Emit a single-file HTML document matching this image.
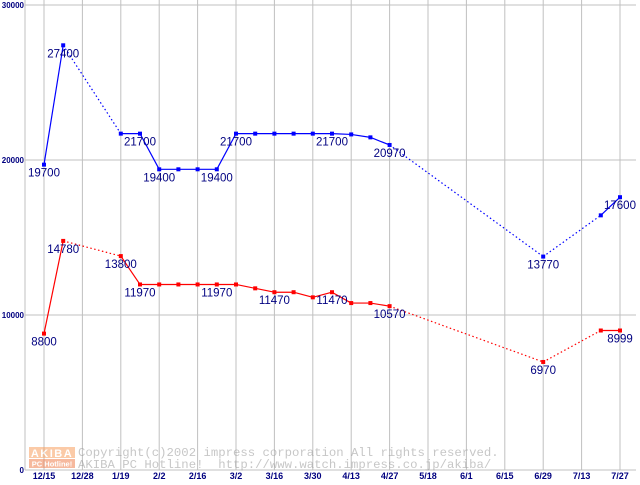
<!DOCTYPE html>
<html><head><meta charset="utf-8"><style>
body{margin:0;background:#fff;}
svg text{font-family:"Liberation Sans",sans-serif;}
svg text.mono{font-family:"Liberation Mono",monospace;}
</style></head><body>
<svg id="chart" width="640" height="480" xmlns="http://www.w3.org/2000/svg">
<g id="grid"></g>
<g id="wm" opacity="0.55">
 <rect x="29" y="447" width="46" height="11" fill="#f9a060"/>
 <text x="52" y="457" font-size="11" font-weight="bold" fill="#fff" text-anchor="middle" letter-spacing="1.5">AKIBA</text>
 <rect x="29" y="459" width="46" height="9" fill="#f08050"/>
 <text x="52" y="466.5" font-size="7.5" font-weight="bold" fill="#fff" text-anchor="middle">PC Hotline!</text>
 <text class="mono" x="78" y="456" font-size="12.3" fill="#999">Copyright(c)2002 impress corporation All rights reserved.</text>
 <text class="mono" x="78" y="468" font-size="12.3" fill="#999" xml:space="preserve">AKIBA PC Hotline!  http://www.watch.impress.co.jp/akiba/</text>
</g>
<g id="series"></g>
</svg>
<script>
const xLabels=["12/15","12/28","1/19","2/2","2/16","3/2","3/16","3/30","4/13","4/27","5/18","6/1","6/15","6/29","7/13","7/27"];
const yTicks=[0,10000,20000,30000];
const blueIdx=[0,0.5,2,2.5,3,3.5,4,4.5,5,5.5,6,6.5,7,7.5,8,8.5,9,13,14.5,15];
const blueVals=[19700,27400,21700,21700,19400,19400,19400,19400,21700,21700,21700,21700,21700,21700,21650,21460,20970,13770,16430,17600];
const blueDotted=[1,16,17];
const blueLabels=[[0,"19700"],[1,"27400"],[3,"21700"],[4,"19400"],[7,"19400"],[8,"21700"],[13,"21700"],[16,"20970"],[17,"13770"],[19,"17600"]];
const redIdx=[0,0.5,2,2.5,3,3.5,4,4.5,5,5.5,6,6.5,7,7.5,8,8.5,9,13,14.5,15];
const redVals=[8800,14780,13800,11970,11970,11970,11970,11970,11970,11720,11470,11470,11140,11470,10770,10770,10570,6970,8999,8999];
const redDotted=[1,16,17];
const redLabels=[[0,"8800"],[1,"14780"],[2,"13800"],[3,"11970"],[7,"11970"],[10,"11470"],[13,"11470"],[16,"10570"],[17,"6970"],[19,"8999"]];

const NS="http://www.w3.org/2000/svg";
const X=i=>44+38.4*i;
const Y=v=>470-v*0.0155;
function mk(tag,attrs,parent){const e=document.createElementNS(NS,tag);for(const k in attrs)e.setAttribute(k,attrs[k]);parent.appendChild(e);return e;}
const grid=document.getElementById('grid');
xLabels.forEach((l,i)=>{
 const ln=mk('line',{x1:X(i),x2:X(i),y1:0,y2:470,stroke:'#c0c0c0','stroke-width':1},grid);
 
 
 const t=mk('text',{x:X(i),y:479,'font-size':9,'font-weight':'bold',fill:'#000080','text-anchor':'middle'},grid);
 t.textContent=l;
 
 
});
yTicks.forEach(v=>{
 const ln=mk('line',{x1:25,x2:636,y1:Y(v),y2:Y(v),stroke:'#c0c0c0','stroke-width':1},grid);
 
 
 const t=mk('text',{x:24,y:Y(v)+3,'font-size':8,'font-weight':'bold',fill:'#000080','text-anchor':'end'},grid);
 t.textContent=String(v);
 
 
});
const ax=mk('line',{x1:25,x2:25,y1:0,y2:470,stroke:'#c0c0c0'},grid);


const sg=document.getElementById('series');
function draw(idx,vals,dotted,labels,color,name){
 const g=mk('g',{},sg);
 
 
 for(let k=0;k<idx.length-1;k++){
  const a={x1:X(idx[k]),y1:Y(vals[k]),x2:X(idx[k+1]),y2:Y(vals[k+1]),stroke:color,'stroke-width':1.2};
  if(dotted.includes(k))a['stroke-dasharray']='1.5,2.5';
  const s=mk('line',a,g);
  
  
 }
 idx.forEach((ix,k)=>{
  const p=mk('rect',{x:X(ix)-2,y:Y(vals[k])-2,width:4,height:4,fill:color},g);
  
  
 });
 labels.forEach(([k,txt])=>{
  const t=mk('text',{x:X(idx[k]),y:Y(vals[k])+12,'font-size':11.5,fill:'#000080','text-anchor':'middle'},g);
  t.textContent=txt;
  
  
 });
}
draw(blueIdx,blueVals,blueDotted,blueLabels,'#0000ff','blue');
draw(redIdx,redVals,redDotted,redLabels,'#ff0000','red');
</script>
</body></html>
